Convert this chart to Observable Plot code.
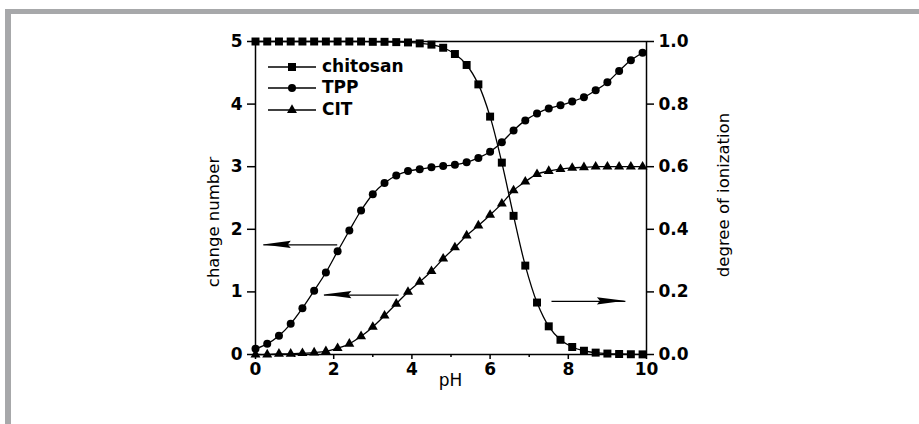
<!DOCTYPE html>
<html>
<head>
<meta charset="utf-8">
<script src="https://cdn.jsdelivr.net/npm/d3@7"></script>
<script src="https://cdn.jsdelivr.net/npm/@observablehq/plot@0.6"></script>
<style>
  html, body { margin: 0; padding: 0; background: #fff; overflow: hidden; }
  #wrap { position: relative; width: 919px; height: 424px; }
  #border { position: absolute; left: 5px; top: 9px; width: 1000px; height: 500px;
            border-top: 5px solid #a7a8aa; border-left: 6px solid #a7a8aa; box-sizing: border-box; }
  #chart { position: absolute; left: 0; top: 0; }
</style>
</head>
<body>
<div id="wrap"><div id="border"></div><div id="chart"></div></div>
<script>
const pH = [0.0,0.3,0.6,0.9,1.2,1.5,1.8,2.1,2.4,2.7,3.0,3.3,3.6,3.9,4.2,4.5,4.8,5.1,5.4,5.7,6.0,6.3,6.6,6.9,7.2,7.5,7.8,8.1,8.4,8.7,9.0,9.3,9.6,9.9];
// degree of ionization (right axis, 0–1)
const chitosan = [1.000,1.000,1.000,1.000,1.000,1.000,1.000,1.000,1.000,1.000,0.999,0.999,0.998,0.997,0.994,0.990,0.980,0.960,0.925,0.863,0.760,0.613,0.443,0.284,0.166,0.090,0.047,0.024,0.012,0.006,0.003,0.0016,0.0008,0.0004];
// charge number (left axis, 0–5)
const TPP = [0.09,0.17,0.30,0.49,0.74,1.02,1.31,1.65,1.98,2.30,2.56,2.74,2.86,2.93,2.96,2.99,3.01,3.03,3.07,3.14,3.24,3.39,3.58,3.74,3.85,3.93,3.98,4.04,4.11,4.22,4.35,4.53,4.70,4.82];
const CIT = [0.00,0.00,0.01,0.01,0.02,0.03,0.05,0.10,0.17,0.29,0.44,0.62,0.81,1.00,1.16,1.33,1.53,1.71,1.90,2.06,2.23,2.41,2.62,2.76,2.88,2.93,2.96,2.98,2.99,3.00,3.00,3.00,3.00,3.00];
const seriesNames = ["chitosan","TPP","CIT"];
const xTicks = [0,2,4,6,8,10];
const xMinorTicks = [1,3,5,7,9];
const yTicks = [0,1,2,3,4,5];
const leftTickLabels = ["0","1","2","3","4","5"];
const rightTickLabels = ["0.0","0.2","0.4","0.6","0.8","1.0"];
// arrow annotations (data units): from x1 to x2 at y
const arrows = [
  {x1: 2.09, x2: 0.20, y: 1.75},
  {x1: 3.66, x2: 1.75, y: 0.95},
  {x1: 7.57, x2: 9.46, y: 0.85}
];

const rightScale = 5; // ionization 1.0 maps onto charge number 5
const chiData = pH.map((x, i) => ({x, y: chitosan[i] * rightScale}));
const tppData = pH.map((x, i) => ({x, y: TPP[i]}));
const citData = pH.map((x, i) => ({x, y: CIT[i]}));

const SQ_R = 4.5, CI_R = 4, TR_R = 3.7;
const lineOpts = {x: "x", y: "y", curve: "catmull-rom", stroke: "black", strokeWidth: 1.3};

const plot = Plot.plot({
  width: 919, height: 424,
  marginLeft: 255, marginRight: 273, marginTop: 41, marginBottom: 70,
  style: {fontFamily: "DejaVu Sans", fontSize: "17px", fontWeight: "bold", color: "black", background: "transparent", overflow: "visible"},
  x: {domain: [0, 10]},
  y: {domain: [0, 5]},
  marks: [
    Plot.frame({stroke: "black", strokeWidth: 1.5}),
    Plot.axisX({ticks: xTicks, tickSize: 5, tickPadding: 3, strokeWidth: 1.5, label: null, fontSize: 17, fontWeight: "bold",
      tickFormat: d => String(d)}),
    Plot.axisX({ticks: xMinorTicks, tickSize: 3, tickFormat: () => "", strokeWidth: 1.5, label: null}),
    Plot.axisY({ticks: yTicks, anchor: "left", tickSize: 8, tickPadding: 5, strokeWidth: 1.5, label: null, fontSize: 17, fontWeight: "bold",
      tickFormat: d => leftTickLabels[yTicks.indexOf(d)]}),
    Plot.axisY({ticks: yTicks, anchor: "right", tickSize: 7, tickPadding: 5, strokeWidth: 1.5, label: null, fontSize: 17, fontWeight: "bold",
      tickFormat: d => rightTickLabels[yTicks.indexOf(d)]}),
    Plot.line(chiData, lineOpts),
    Plot.line(tppData, lineOpts),
    Plot.line(citData, lineOpts),
    Plot.dot(chiData, {x: "x", y: "y", symbol: "square", r: SQ_R, fill: "black"}),
    Plot.dot(tppData, {x: "x", y: "y", symbol: "circle", r: CI_R, fill: "black"}),
    Plot.dot(citData, {x: "x", y: "y", symbol: "triangle", r: TR_R, fill: "black"}),
    Plot.link(arrows, {x1: "x1", x2: "x2", y1: "y", y2: "y", stroke: "black", strokeWidth: 1.2})
  ]
});
document.getElementById("chart").appendChild(plot);

const svg = d3.select(plot);
const sx = plot.scale("x"), sy = plot.scale("y");
// arrow heads
const HEAD_L = 28, HEAD_W = 3.6;
arrows.forEach(a => {
  const tx = sx.apply(a.x2), ty = sy.apply(a.y);
  const dir = a.x2 > a.x1 ? 1 : -1;
  const bx = tx - dir * HEAD_L;
  svg.append("path")
    .attr("d", `M${tx},${ty} L${bx},${ty - HEAD_W} L${bx + dir * 3},${ty} L${bx},${ty + HEAD_W} Z`)
    .attr("fill", "black");
});

// axis titles
const titleFamily = "DejaVu Sans";
function title(txt, x, y, rot, size) {
  svg.append("text")
    .attr("transform", `translate(${x},${y})` + (rot ? ` rotate(${rot})` : ""))
    .attr("text-anchor", "middle").attr("dominant-baseline", "middle")
    .style("font-family", titleFamily).style("font-size", size + "px").style("font-weight", "normal")
    .text(txt);
}
title("change number", sx.apply(0) - 41, 222, -90, 16.5);
title("degree of ionization", sx.apply(10) + 78, 195, -90, 16.5);
title("pH", sx.apply(5), 381, 0, 17);

// legend
const legend = svg.append("g");
const symbols = [d3.symbolSquare, d3.symbolCircle, d3.symbolTriangle];
const radii = [SQ_R, CI_R, TR_R];
const legendY = [67, 88, 110];
seriesNames.forEach((name, i) => {
  const y = legendY[i];
  legend.append("line").attr("x1", 268).attr("x2", 316).attr("y1", y).attr("y2", y)
    .attr("stroke", "black").attr("stroke-width", 1.3);
  legend.append("path").attr("transform", `translate(292,${y})`)
    .attr("d", d3.symbol(symbols[i], Math.PI * radii[i] * radii[i])()).attr("fill", "black");
  legend.append("text").attr("x", 322).attr("y", y)
    .attr("text-anchor", "start").attr("dominant-baseline", "middle")
    .style("font-family", "DejaVu Sans").style("font-size", "17px").style("font-weight", "bold")
    .text(name);
});
</script>
</body>
</html>
